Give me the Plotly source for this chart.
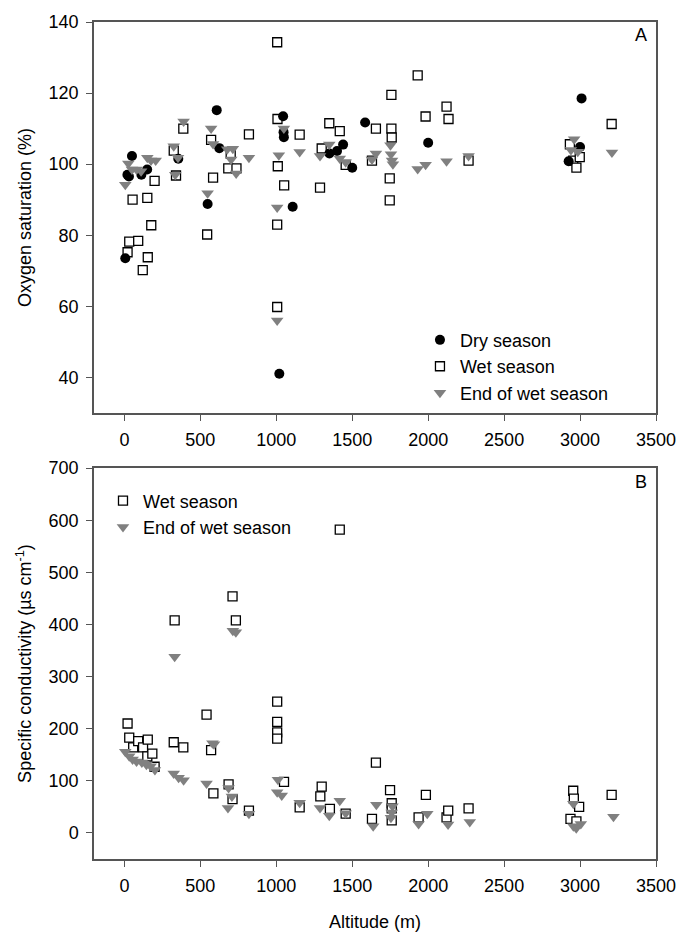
import plotly.graph_objects as go

# ---------------- Panel A: oxygen saturation (%) ----------------
dry_alt = [6, 20, 30, 50, 112, 150, 355, 548, 608, 625, 1020, 1045, 1048, 1050, 1108,
           1350, 1400, 1440, 1500, 1585, 2000, 2925, 3000, 3010]
dry_o2 = [73.5, 97, 96.5, 102.3, 97, 98.5, 101.5, 88.8, 115.2, 104.5, 41, 113.5, 109, 107.6, 88,
          103, 103.7, 105.5, 99, 111.7, 106, 100.8, 104.8, 118.5]

wetA_alt = [21, 32, 54, 91, 121, 151, 154, 177, 199, 325, 340, 388, 545, 571, 584, 684, 700, 738,
            820, 1006, 1008, 1010, 1006, 1006, 1052, 1154, 1288, 1299, 1349, 1418, 1457, 1630,
            1656, 1758, 1758, 1760, 1747, 1747, 1931, 1983, 2121, 2134, 2266, 2933, 2955, 2976,
            2998, 3208]
wetA_o2 = [75.2, 78.2, 90, 78.4, 70.2, 90.5, 73.8, 82.8, 95.3, 103.8, 96.8, 110, 80.2, 106.8, 96.2,
           98.8, 103, 98.8, 108.4, 134.3, 112.7, 99.4, 83, 59.8, 94, 108.3, 93.4, 104.4, 111.5,
           109.3, 99.8, 101, 110, 119.5, 110, 107.5, 96, 89.8, 125, 113.4, 116.2, 112.7, 101,
           105.6, 101, 99, 102, 111.3]

endA_alt = [6, 26, 50, 80, 110, 151, 175, 206, 325, 335, 353, 390, 548, 571, 584, 677, 703, 714,
            736, 820, 1006, 1006, 1017, 1050, 1154, 1288, 1349, 1418, 1457, 1630, 1656, 1752,
            1755, 1762, 1768, 1931, 1983, 2121, 2266, 2940, 2961, 2985, 3210]
endA_o2 = [94.2, 100.2, 98.5, 98.5, 98, 101.8, 101, 101, 105, 97, 101.8, 112, 91.8, 110, 105.7,
           104.2, 101.3, 104.3, 97.4, 101.8, 87.8, 56, 102.5, 110, 103.4, 102.3, 105.5, 101.6,
           100.5, 101.3, 103, 105.3, 102.8, 101, 100, 98.6, 99.8, 100.8, 102.3, 104, 107, 103.5,
           103.3]

# ---------------- Panel B: specific conductivity ----------------
wetB_alt = [21, 32, 58, 91, 123, 154, 151, 184, 199, 325, 331, 388, 541, 571, 586, 686, 712, 712,
            734, 820, 1006, 1006, 1006, 1006, 1051, 1154, 1290, 1299, 1353, 1418, 1457, 1630,
            1656, 1749, 1760, 1760, 1760, 1937, 1985, 2121, 2132, 2266, 2937, 2955, 2959, 2994,
            2976, 3208]
wetB_cond = [210, 183, 164, 176, 164, 179, 147, 152, 127, 174, 408, 164, 227, 159, 76, 93, 65, 454,
             408, 43, 252, 213, 193, 181, 98, 49, 70, 89, 46, 582, 37, 27, 135, 82, 57, 47, 24,
             30, 73, 30, 43, 47, 27, 81, 66, 50, 22, 73]

endB_alt = [6, 32, 54, 80, 115, 145, 173, 201, 325, 331, 357, 390, 541, 580, 590, 682, 686, 708,
            714, 734, 820, 1011, 1006, 1036, 1154, 1288, 1349, 1418, 1457, 1638, 1659, 1755, 1760,
            1765, 1937, 1994, 2131, 2274, 2956, 2956, 2975, 3005, 3220]
endB_cond = [156, 147, 141, 137, 135, 131, 128, 121, 114, 338, 106, 101, 95, 172, 170, 48, 86, 70,
             388, 385, 37, 102, 78, 72, 58, 48, 33, 62, 38, 13, 54, 29, 39, 51, 17, 37, 16, 21,
             56, 13, 9, 17, 31]

x_ticks = [0, 500, 1000, 1500, 2000, 2500, 3000, 3500]
yA_ticks = [40, 60, 80, 100, 120, 140]
yB_ticks = [0, 100, 200, 300, 400, 500, 600, 700]

GRAY = "#808080"
FONT = "Liberation Sans, Arial, sans-serif"
FS = 18

fig = go.Figure()

wet_marker = dict(symbol="square", size=9, color="white", line=dict(color="black", width=1.3))
end_marker = dict(symbol="triangle-down", size=11, color=GRAY, line=dict(width=0))
dry_marker = dict(symbol="circle", size=10, color="black", line=dict(width=0))

fig.add_trace(go.Scatter(x=wetA_alt, y=wetA_o2, mode="markers", name="Wet season",
                         marker=wet_marker, xaxis="x", yaxis="y", legend="legend", legendrank=2))
fig.add_trace(go.Scatter(x=dry_alt, y=dry_o2, mode="markers", name="Dry season",
                         marker=dry_marker, xaxis="x", yaxis="y", legend="legend", legendrank=1))
fig.add_trace(go.Scatter(x=endA_alt, y=endA_o2, mode="markers", name="End of wet season",
                         marker=end_marker, xaxis="x", yaxis="y", legend="legend", legendrank=3))

fig.add_trace(go.Scatter(x=wetB_alt, y=wetB_cond, mode="markers", name="Wet season",
                         marker=wet_marker, xaxis="x2", yaxis="y2", legend="legend2", legendrank=1))
fig.add_trace(go.Scatter(x=endB_alt, y=endB_cond, mode="markers", name="End of wet season",
                         marker=end_marker, xaxis="x2", yaxis="y2", legend="legend2", legendrank=2))

axis_common = dict(showline=True, linecolor="#555555", linewidth=1.5, mirror=True,
                   ticks="outside", ticklen=6, tickwidth=1.2, tickcolor="#555555",
                   ticklabelstandoff=4,
                   showgrid=False, zeroline=False,
                   tickfont=dict(family=FONT, size=FS, color="black"))

fig.update_layout(
    width=688, height=941,
    margin=dict(l=94, r=25, t=15, b=76),
    paper_bgcolor="white", plot_bgcolor="white",
    font=dict(family=FONT, size=FS, color="black"),
    xaxis=dict(domain=[0, 1], anchor="y", range=[-200, 3500], tickvals=x_ticks, **axis_common),
    yaxis=dict(domain=[0.533, 1], anchor="x", range=[30, 140], tickvals=yA_ticks,
               title=dict(text="Oxygen saturation (%)", font=dict(family=FONT, size=FS), standoff=12),
               **axis_common),
    xaxis2=dict(domain=[0, 1], anchor="y2", range=[-200, 3500], tickvals=x_ticks,
                title=dict(text="Altitude (m)", font=dict(family=FONT, size=FS), standoff=20),
                **axis_common),
    yaxis2=dict(domain=[0, 0.467], anchor="x2", range=[-50, 700], tickvals=yB_ticks,
                title=dict(text="Specific conductivity (µs cm<sup>-1</sup>)", font=dict(family=FONT, size=FS), standoff=12),
                **axis_common),
    legend=dict(x=0.58, y=0.642, xanchor="left", yanchor="top", bgcolor="rgba(0,0,0,0)",
                font=dict(family=FONT, size=FS), tracegroupgap=0, itemsizing="trace"),
    legend2=dict(x=0.016, y=0.450, xanchor="left", yanchor="top", bgcolor="rgba(0,0,0,0)",
                 font=dict(family=FONT, size=FS), tracegroupgap=0, itemsizing="trace"),
    annotations=[
        dict(text="A", x=0.974, y=0.985, xref="paper", yref="paper", showarrow=False,
             xanchor="center", yanchor="middle", font=dict(family=FONT, size=FS)),
        dict(text="B", x=0.974, y=0.451, xref="paper", yref="paper", showarrow=False,
             xanchor="center", yanchor="middle", font=dict(family=FONT, size=FS)),
    ],
    showlegend=True,
)

# remove the browser's default 8px body margin so the figure fills the window exactly
fig.write_html("out.html", config={"displayModeBar": False},
               post_script="document.body.style.margin='0';document.body.style.overflow='hidden';")
